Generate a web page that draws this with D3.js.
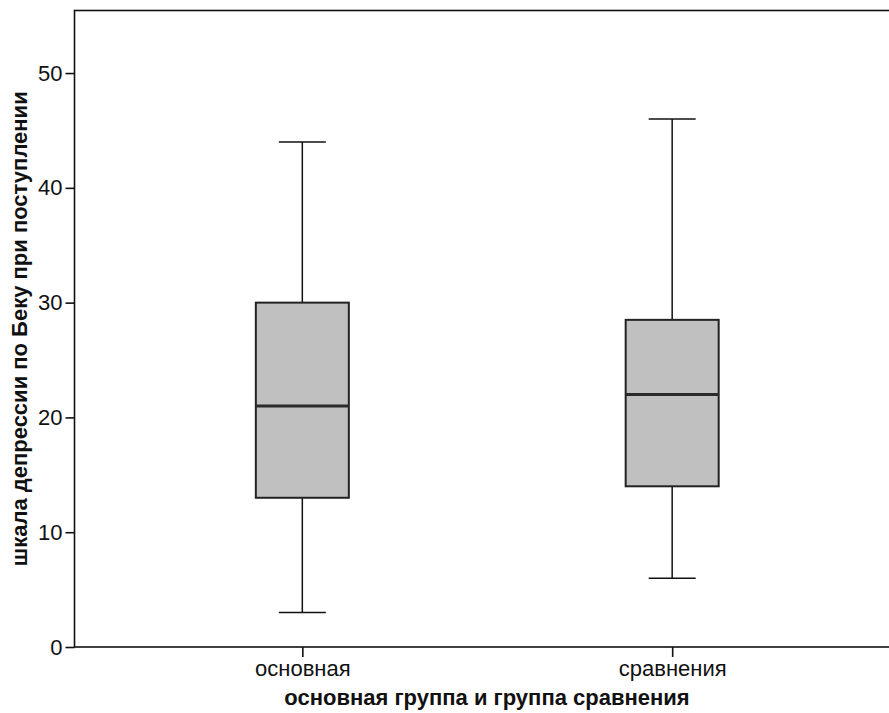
<!DOCTYPE html>
<html lang="ru">
  <head>
    <meta charset="UTF-8" />
    <title>Box plot</title>
    <script src="https://cdn.jsdelivr.net/npm/d3@7"></script>
    <style>
      body { margin: 0; background: #fff; }
      svg text { font-family: "Liberation Sans", Arial, sans-serif; }
    </style>
  </head>
  <body>
    <div id="container"></div>
    <script>
      // data
      const groups = ['основная', 'сравнения']
      const whiskerLow = [3, 6]
      const q1 = [13, 14]
      const median = [21, 22]
      const q3 = [30, 28.5]
      const whiskerHigh = [44, 46]
      const yTicks = [0, 10, 20, 30, 40, 50]

      const width = 889
      const height = 713
      const marginTop = 10.5
      const marginLeft = 74.5
      const marginBottom = 66
      const plotRight = 900

      const boxWidth = 93
      const capWidth = 47

      const dataset = groups.map((g, i) => ({
        group: g,
        lo: whiskerLow[i], q1: q1[i], med: median[i], q3: q3[i], hi: whiskerHigh[i]
      }))

      const xScale = d3.scalePoint()
        .domain(groups)
        .range([marginLeft, plotRight])
        .padding(0.616)

      const yScale = d3.scaleLinear()
        .domain([0, 55.45])
        .range([height - marginBottom, marginTop])

      const svg = d3.create('svg')
        .attr('width', width)
        .attr('height', height)
        .attr('viewBox', [0, 0, width, height])

      // frame (right side falls outside the picture)
      svg.append('rect')
        .attr('x', marginLeft)
        .attr('y', marginTop)
        .attr('width', plotRight - marginLeft)
        .attr('height', height - marginBottom - marginTop)
        .attr('fill', 'none')
        .attr('stroke', '#111')
        .attr('stroke-width', 1.6)

      const box = svg.append('g')
        .selectAll('g')
        .data(dataset)
        .join('g')

      // whisker stems
      box.append('line')
        .attr('x1', d => xScale(d.group))
        .attr('x2', d => xScale(d.group))
        .attr('y1', d => yScale(d.hi))
        .attr('y2', d => yScale(d.q3))
        .attr('stroke', '#111').attr('stroke-width', 1.5)
      box.append('line')
        .attr('x1', d => xScale(d.group))
        .attr('x2', d => xScale(d.group))
        .attr('y1', d => yScale(d.q1))
        .attr('y2', d => yScale(d.lo))
        .attr('stroke', '#111').attr('stroke-width', 1.5)

      // caps
      box.selectAll('line.cap')
        .data(d => [d.hi, d.lo].map(v => ({ group: d.group, v })))
        .join('line')
        .attr('class', 'cap')
        .attr('x1', d => xScale(d.group) - capWidth / 2)
        .attr('x2', d => xScale(d.group) + capWidth / 2)
        .attr('y1', d => yScale(d.v))
        .attr('y2', d => yScale(d.v))
        .attr('stroke', '#111').attr('stroke-width', 1.5)

      // boxes
      box.append('rect')
        .attr('x', d => xScale(d.group) - boxWidth / 2)
        .attr('width', boxWidth)
        .attr('y', d => yScale(d.q3))
        .attr('height', d => yScale(d.q1) - yScale(d.q3))
        .attr('fill', '#c0c0c0')
        .attr('stroke', '#222')
        .attr('stroke-width', 2)

      // medians
      box.append('line')
        .attr('x1', d => xScale(d.group) - boxWidth / 2)
        .attr('x2', d => xScale(d.group) + boxWidth / 2)
        .attr('y1', d => yScale(d.med))
        .attr('y2', d => yScale(d.med))
        .attr('stroke', '#2a2a2a').attr('stroke-width', 3)

      // y axis
      svg.append('g')
        .attr('transform', `translate(${marginLeft}, 0)`)
        .call(d3.axisLeft(yScale).tickValues(yTicks).tickSize(9).tickPadding(3))
        .call(g => g.select('.domain').remove())
        .call(g => g.selectAll('line').attr('stroke', '#111').attr('stroke-width', 1.6))
        .call(g => g.selectAll('text').attr('font-size', 22).attr('fill', '#111')
          .attr('font-family', '"Liberation Sans", Arial, sans-serif'))

      // x axis
      svg.append('g')
        .attr('transform', `translate(0, ${height - marginBottom})`)
        .call(d3.axisBottom(xScale).tickSize(10).tickPadding(3.5))
        .call(g => g.select('.domain').remove())
        .call(g => g.selectAll('line').attr('stroke', '#111').attr('stroke-width', 1.6))
        .call(g => g.selectAll('text').attr('font-size', 22).attr('fill', '#111')
          .attr('font-family', '"Liberation Sans", Arial, sans-serif'))

      // axis titles
      svg.append('text')
        .attr('x', 487)
        .attr('y', 705)
        .attr('text-anchor', 'middle')
        .attr('font-size', 22)
        .attr('font-weight', 'bold')
        .attr('fill', '#111')
        .text('основная группа и группа сравнения')

      svg.append('text')
        .attr('transform', `translate(27, ${(marginTop + height - marginBottom) / 2}) rotate(-90)`)
        .attr('text-anchor', 'middle')
        .attr('font-size', 22)
        .attr('font-weight', 'bold')
        .attr('fill', '#111')
        .text('шкала депрессии по Беку при поступлении')

      document.getElementById('container').append(svg.node())
    </script>
  </body>
</html>
